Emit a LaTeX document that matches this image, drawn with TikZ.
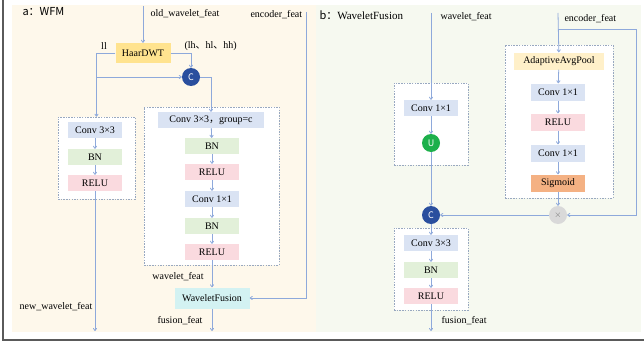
\documentclass[tikz,border=0pt]{standalone}
\usepackage{fontspec}
\setmainfont{Liberation Serif}
\newfontfamily\cjk{Noto Sans CJK SC}
\usepackage{tikz}
\usetikzlibrary{%
	arrows.meta,%
	fit%
}
\definecolor{Frame}{HTML}{5A5A5A}
\definecolor{PaperA}{HTML}{FEF8EB}
\definecolor{PaperB}{HTML}{F6F9F0}
\definecolor{Flow}{HTML}{8EA9DB}
\definecolor{Dash}{HTML}{98A8C0}
\definecolor{ConvC}{HTML}{DAE3F3}
\definecolor{BnC}{HTML}{E2F0D9}
\definecolor{ReluC}{HTML}{FADADF}
\definecolor{HaarC}{HTML}{FFE38F}
\definecolor{PoolC}{HTML}{FFF0C9}
\definecolor{SigC}{HTML}{F4B183}
\definecolor{FuseC}{HTML}{D3F2F2}
\definecolor{CatC}{HTML}{2A4F9E}
\definecolor{UpC}{HTML}{1DB04B}
\definecolor{MulC}{HTML}{D9D9D9}

\begin{document}
\begin{tikzpicture}[x=1pt,y=-1pt,
	font=\fontsize{10}{12}\selectfont,
	layer/.style={minimum width=54pt,minimum height=16pt,inner sep=1pt},
	conv/.style={layer,fill=ConvC},
	bn/.style={layer,fill=BnC},
	relu/.style={layer,fill=ReluC},
	op/.style={circle,minimum size=18pt,inner sep=0pt,font=\cjk\fontsize{9}{10}\selectfont,text=white},
	dashbox/.style={draw=Dash,dash pattern=on 1.5pt off 1.2pt,line width=0.6pt,fill=white,inner sep=0pt},
	flow/.style={draw=Flow,line width=0.8pt,-{To[length=3pt,width=4pt]}}]
\useasboundingbox (0,0) rectangle (644,345);
% Paper
\fill[PaperA] (12,5) rectangle (316,332);
\fill[PaperB] (316,5) rectangle (641,332);
\draw[Frame,line width=1.3pt] (3,0) -- (3,340) -- (644,340);

% a: WFM
\node[anchor=west,font=\cjk\fontsize{11}{12}\selectfont] (titleA) at (19,12) {a：WFM};
\node[dashbox,fit={(58,117) (135,199)}] (ldash) {};
\node[dashbox,fit={(144,107) (279,265)}] (gdash) {};
\node[layer,fill=HaarC,minimum width=55pt,minimum height=20pt] (haar) at (143,53) {HaarDWT};
\node[op,fill=CatC] (catA) at (191,77) {C};
\node[conv] (lconv) at (95,130) {Conv 3×3};
\node[bn] (lbn) at (95,157) {BN};
\node[relu] (lrelu) at (95,183) {RELU};
\node[conv,minimum width=106pt] (gconv) at (211,120) {Conv 3×3{\cjk ，}group=c};
\node[bn] (gbn) at (212,146) {BN};
\node[relu] (grelu) at (212,172) {RELU};
\node[conv] (gconv2) at (212,199) {Conv 1×1};
\node[bn] (gbn2) at (212,226) {BN};
\node[relu] (grelu2) at (212,252) {RELU};
\node[layer,fill=FuseC,minimum width=75pt,minimum height=21pt] (wf) at (212,298) {WaveletFusion};
% Labels a
\node[anchor=west] (oldlab) at (147,14) {old\_wavelet\_feat};
\node[anchor=west] (enclabA) at (247,15) {encoder\_feat};
\node (lllab) at (104,46) {ll};
\node[anchor=west] (hilab) at (181,46) {(lh{\cjk 、}hl{\cjk 、}hh)};
\node (wavlabA) at (178,277) {wavelet\_feat};
\node (newlab) at (56,307) {new\_wavelet\_feat};
\node (fuselabA) at (180,321) {fusion\_feat};
\coordinate (oldin) at (143,6);
\coordinate (encA) at (306,12);
\coordinate (newout) at (95,331);
\coordinate (fuseout) at (212,331);
% Flow a
\draw[flow] (oldin) -- (haar);
\draw[flow] (haar.west) -| (ldash.north);
\draw[flow] (ldash.north |- catA) -- (catA);
\draw[flow] (haar.east) -| (catA.north);
\draw[flow] (catA.east) -| (gconv.north);
\draw[flow] (lconv) -- (lbn);
\draw[flow] (lbn) -- (lrelu);
\draw[flow] (lrelu) -- (newout);
\draw[flow] (gconv) -- (gbn);
\draw[flow] (gbn) -- (grelu);
\draw[flow] (grelu) -- (gconv2);
\draw[flow] (gconv2) -- (gbn2);
\draw[flow] (gbn2) -- (grelu2);
\draw[flow] (grelu2) -- (wf);
\draw[flow] (wf) -- (fuseout);
\draw[flow] (encA) |- (wf.east);

% b: WaveletFusion
\node[anchor=west,font=\fontsize{11}{12}\selectfont] (titleB) at (316,15) {{\cjk b：}WaveletFusion};
\node[dashbox,fit={(394,83) (468,165)}] (udash) {};
\node[dashbox,fit={(394,228) (468,310)}] (cdash) {};
\node[dashbox,fit={(505,45) (613,198)}] (sdash) {};
\node[conv] (bconv) at (431,108) {Conv 1×1};
\node[op,fill=UpC] (up) at (431,143) {U};
\node[op,fill=CatC] (catB) at (431,215) {C};
\node[conv] (cconv) at (431,243) {Conv 3×3};
\node[bn] (cbn) at (431,270) {BN};
\node[relu] (crelu) at (431,296) {RELU};
\node[layer,fill=PoolC,minimum width=90pt,minimum height=17pt] (pool) at (559,61) {AdaptiveAvgPool};
\node[conv,minimum height=17pt] (rconv) at (558,92) {Conv 1×1};
\node[relu,minimum height=17pt] (rrelu) at (558,122) {RELU};
\node[conv,minimum height=17pt] (rconv2) at (558,153) {Conv 1×1};
\node[layer,fill=SigC,minimum height=17pt] (sig) at (558,183) {Sigmoid};
\node[op,fill=MulC,text=black!55] (mul) at (558,215) {$\times$};
% Labels b
\node[anchor=west] (wavlabB) at (437,17) {wavelet\_feat};
\node[anchor=west] (enclabB) at (561,19) {encoder\_feat};
\node[anchor=west] (fuselabB) at (438,321) {fusion\_feat};
\coordinate (wavin) at (431,13);
\coordinate (encB) at (558,13);
\coordinate (encsplit) at (558,29);
\coordinate (encturn) at (636,29);
\coordinate (bout) at (431,331);
% Flow b
\draw[flow] (wavin) -- (bconv);
\draw[flow] (bconv) -- (up);
\draw[flow] (up) -- (catB);
\draw[flow] (catB) -- (cconv);
\draw[flow] (cconv) -- (cbn);
\draw[flow] (cbn) -- (crelu);
\draw[flow] (crelu) -- (bout);
\draw[flow] (encB) -- (pool);
\draw[flow] (encsplit) -- (encturn) |- (mul.east);
\draw[flow] (pool) -- (rconv);
\draw[flow] (rconv) -- (rrelu);
\draw[flow] (rrelu) -- (rconv2);
\draw[flow] (rconv2) -- (sig);
\draw[flow] (sig) -- (mul);
\draw[flow] (mul) -- (catB);
\end{tikzpicture}
\end{document}
